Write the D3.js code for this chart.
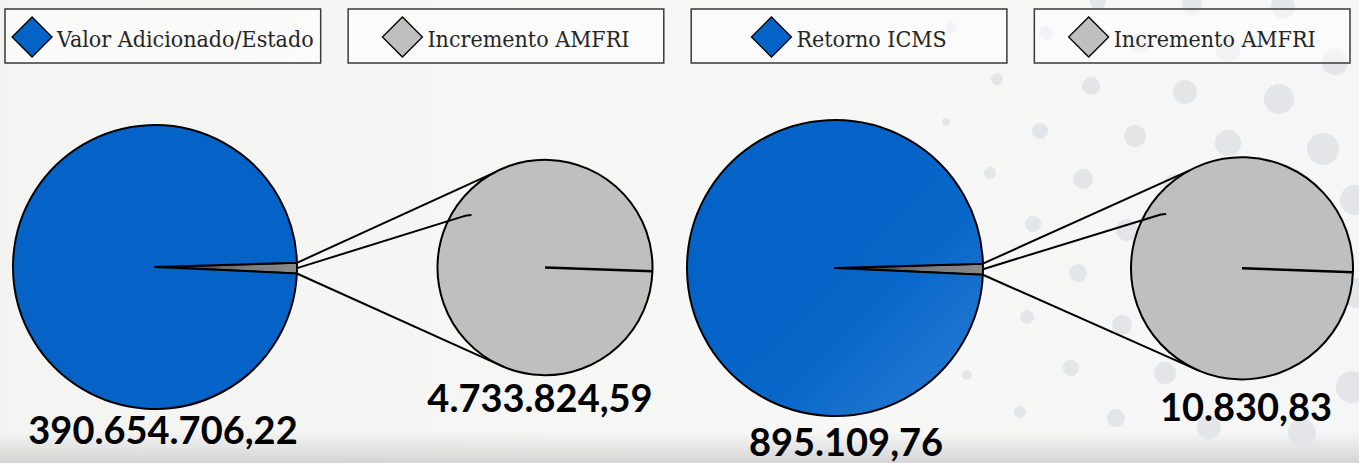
<!DOCTYPE html>
<html>
<head>
<meta charset="utf-8">
<script src="https://cdn.jsdelivr.net/npm/d3@7"></script>
<style>
  html, body { margin: 0; padding: 0; background: #f4f4f3; }
  svg { display: block; }
</style>
</head>
<body>
<div id="chart"></div>
<script>
// values
const mainLabels = ["Valor Adicionado/Estado", "Retorno ICMS"];
const detailLabel = "Incremento AMFRI";
const mainValues = [390654706.22, 895109.76];
const detailValues = [4733824.59, 10830.83];

const legendLabels = ["Valor Adicionado/Estado", "Incremento AMFRI", "Retorno ICMS", "Incremento AMFRI"];
const legendKinds = ["main", "detail", "main", "detail"];

// background decoration (light dots on the right side)
const bgDots = [
  [951, 27, 5], [1046, 33, 7], [1140, 43, 10], [1228, 50, 12], [1098, 2, 8], [1192, 5, 10], [1283, 7, 12],
  [997, 79, 6], [1091, 86, 9], [1185, 92, 12], [1279, 99, 15], [1335, 62, 13],
  [946, 122, 4], [1040, 131, 8], [1135, 136, 11], [1228, 143, 13], [1323, 149, 16],
  [990, 173, 6], [1083, 179, 10], [1175, 186, 12], [1355, 200, 15],
  [1033, 224, 8], [1127, 230, 11], [1078, 273, 9], [1357, 293, 15],
  [1027, 317, 7], [1122, 325, 10], [1071, 368, 8], [967, 375, 5], [1165, 373, 11],
  [1020, 412, 6], [1116, 418, 9], [1209, 427, 12], [1302, 433, 14], [1352, 387, 16]
];

function chart() {
  const width = 1359,
      height = 463;

  const blue = "#0563c8",
      grey = "#bfbfbf";

  const ptBR = d3.formatLocale({decimal: ",", thousands: ".", grouping: [3], currency: ["R$", ""]});
  const fmt = ptBR.format(",.2f");

  const svg = d3.select("#chart").append("svg")
      .attr("width", width)
      .attr("height", height)
      .attr("viewBox", [0, 0, width, height]);

  const defs = svg.append("defs");

  const bg = defs.append("linearGradient").attr("id", "bg")
      .attr("x1", 0).attr("y1", 0).attr("x2", 1).attr("y2", 0);
  bg.append("stop").attr("offset", "0%").attr("stop-color", "#f3f3f2");
  bg.append("stop").attr("offset", "55%").attr("stop-color", "#f7f7f6");
  bg.append("stop").attr("offset", "100%").attr("stop-color", "#f6f6f6");

  const shade = defs.append("linearGradient").attr("id", "shade")
      .attr("x1", 0).attr("y1", 0).attr("x2", 0).attr("y2", 1);
  shade.append("stop").attr("offset", "0%").attr("stop-color", "#d4d4d4").attr("stop-opacity", 0);
  shade.append("stop").attr("offset", "100%").attr("stop-color", "#d4d4d4").attr("stop-opacity", 1);

  const blueGrad = defs.append("linearGradient").attr("id", "blue-lit")
      .attr("x1", 0.3).attr("y1", 0.3).attr("x2", 1).attr("y2", 1);
  blueGrad.append("stop").attr("offset", "0%").attr("stop-color", "#0563c8");
  blueGrad.append("stop").attr("offset", "45%").attr("stop-color", "#0866c9");
  blueGrad.append("stop").attr("offset", "100%").attr("stop-color", "#2a7fd4");

  const sliverGrad = defs.append("linearGradient").attr("id", "sliver")
      .attr("x1", 0).attr("y1", 0).attr("x2", 1).attr("y2", 0);
  sliverGrad.append("stop").attr("offset", "0%").attr("stop-color", "#222");
  sliverGrad.append("stop").attr("offset", "60%").attr("stop-color", "#7a7a7a");
  sliverGrad.append("stop").attr("offset", "100%").attr("stop-color", "#8a8a8a");

  svg.append("rect").attr("width", width).attr("height", height).attr("fill", "url(#bg)");
  svg.append("rect").attr("y", 432).attr("width", width).attr("height", height - 432).attr("fill", "url(#shade)");

  svg.append("g")
      .attr("fill", "#e4e5e8")
    .selectAll("circle")
    .data(bgDots)
    .join("circle")
      .attr("cx", d => d[0])
      .attr("cy", d => d[1])
      .attr("r", d => d[2]);

  // legend boxes
  const legendX = d3.scaleBand()
      .domain(d3.range(legendLabels.length))
      .range([5, 1350])
      .paddingInner(0.08);

  const legend = svg.append("g")
      .style("font", "23px 'DejaVu Serif Condensed', 'DejaVu Serif', serif")
    .selectAll("g")
    .data(legendLabels)
    .join("g")
      .attr("transform", (d, i) => `translate(${legendX(i)},9)`);

  legend.append("rect")
      .attr("width", legendX.bandwidth())
      .attr("height", 54)
      .attr("fill", "rgba(255,255,255,0.55)")
      .attr("stroke", "#3a3a3a")
      .attr("stroke-width", 1.5);

  const diamond = d3.symbol(d3.symbolSquare, 800);

  legend.each(function(d, i) {
    const g = d3.select(this);
    const text = g.append("text")
        .attr("y", 37.5)
        .attr("fill", "#262626")
        .text(d);
    const tw = text.node().getComputedTextLength();
    const gap = 5, dw = 40;
    const x0 = (legendX.bandwidth() - (dw + gap + tw)) / 2;
    g.append("path")
        .attr("d", diamond())
        .attr("transform", `translate(${x0 + dw / 2},28) rotate(45)`)
        .attr("fill", legendKinds[i] === "main" ? blue : grey)
        .attr("stroke", "#000")
        .attr("stroke-width", 1.3);
    text.attr("x", x0 + dw + gap);
  });

  // panel layout
  const panels = [
    {cx: 155, cy: 267, r: 142, sx: 545, sy: 267.5, sr: 107.5, fill: blue, mainDy: 35, detailDy: 37, mainDx: 8, detailDx: -5},
    {cx: 835, cy: 268, r: 148, sx: 1242, sy: 268.3, sr: 111, fill: "url(#blue-lit)", mainDy: 40, detailDy: 42, mainDx: 11, detailDx: 4}
  ];

  const arc = d3.arc().innerRadius(0);
  const polar = (x, y, r, a) => [x + r * Math.sin(a), y - r * Math.cos(a)];

  panels.forEach((p, i) => {
    const values = [detailValues[i], mainValues[i]];
    const theta = 2 * Math.PI * values[0] / d3.sum(values);
    const start = Math.PI / 2 + 0.008 - theta / 2;
    const slices = d3.pie().sort(null)
        .startAngle(start)
        .endAngle(start + 2 * Math.PI)(values);

    const g = svg.append("g");

    // connectors from the small slice to the detail pie
    const d0 = slices[0];
    const topPt = polar(p.cx, p.cy, p.r, d0.startAngle);
    const midPt = polar(p.cx, p.cy, p.r, (d0.startAngle + d0.endAngle) / 2);
    const botPt = polar(p.cx, p.cy, p.r, d0.endAngle);
    const upper = polar(p.sx, p.sy, p.sr, -0.49);
    const lower = polar(p.sx, p.sy, p.sr, 3.54);
    const hookEnd = polar(p.sx, p.sy, p.sr * 0.84, -0.95);

    const hook = d3.path();
    hook.moveTo(midPt[0], midPt[1]);
    hook.lineTo(hookEnd[0] - p.sr * 0.085, hookEnd[1] + p.sr * 0.015);
    hook.quadraticCurveTo(hookEnd[0] - p.sr * 0.05, hookEnd[1], hookEnd[0], hookEnd[1]);

    // detail pie (single full slice)
    const detail = d3.pie()
        .startAngle(Math.PI / 2 + 0.035)
        .endAngle(Math.PI / 2 + 0.035 + 2 * Math.PI)([detailValues[i]]);

    g.append("path")
        .attr("transform", `translate(${p.sx},${p.sy})`)
        .attr("d", arc.outerRadius(p.sr)(detail[0]))
        .attr("fill", grey)
        .attr("stroke", "#000")
        .attr("stroke-width", 2);

    const seam = polar(p.sx, p.sy, p.sr, detail[0].startAngle);
    g.append("line")
        .attr("x1", p.sx).attr("y1", p.sy)
        .attr("x2", seam[0]).attr("y2", seam[1])
        .attr("stroke", "#000")
        .attr("stroke-width", 2.5);

    g.append("g")
        .attr("fill", "none")
        .attr("stroke", "#000")
        .attr("stroke-width", 2)
      .selectAll("path")
      .data([
        d3.line()([topPt, upper]),
        hook.toString(),
        d3.line()([botPt, lower])
      ])
      .join("path")
        .attr("d", d => d);

    // main pie
    g.append("g")
        .attr("transform", `translate(${p.cx},${p.cy})`)
      .selectAll("path")
      .data(slices)
      .join("path")
        .attr("d", arc.outerRadius(p.r))
        .attr("fill", (d, j) => j === 0 ? "url(#sliver)" : p.fill)
        .attr("stroke", "#000")
        .attr("stroke-width", 2)
        .attr("stroke-linejoin", "round");

    // value labels
    const labels = g.append("g")
        .attr("text-anchor", "middle")
        .attr("fill", "#000")
        .style("font", "700 38px Lato, 'Open Sans', sans-serif");

    labels.append("text")
        .attr("x", p.cx + p.mainDx)
        .attr("y", p.cy + p.r + p.mainDy)
        .text(fmt(mainValues[i]));

    labels.append("text")
        .attr("x", p.sx + p.detailDx)
        .attr("y", p.sy + p.sr + p.detailDy)
        .text(fmt(detailValues[i]));
  });
}

window.onload = function() {
  chart();
};
</script>
</body>
</html>
